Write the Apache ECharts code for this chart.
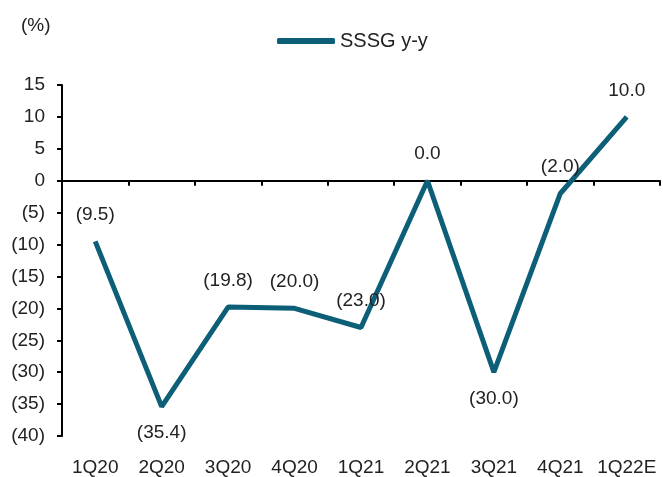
<!DOCTYPE html>
<html><head><meta charset="utf-8">
<script src="https://cdn.jsdelivr.net/npm/echarts@6/dist/echarts.min.js"></script>
<style>html,body{margin:0;padding:0;background:#fff}#c{width:663px;height:477px}</style>
</head><body><div id="c"></div>
<script>
var categories = ['1Q20','2Q20','3Q20','4Q20','1Q21','2Q21','3Q21','4Q21','1Q22E'];
var sssg = [-9.5, -35.4, -19.8, -20.0, -23.0, 0.0, -30.0, -2.0, 10.0];
var labelPos = ['top','bottom','top','top','top','top','bottom','top','top'];
var seriesName = 'SSSG y-y';
var lineColor = '#0d5f78';
var font = 'Liberation Sans, Arial, sans-serif';
var fs = 19;
function fmt(v){ return v < 0 ? '(' + Math.abs(v) + ')' : String(v); }
function fmt1(v){ var s = Math.abs(v).toFixed(1); return v < 0 ? '(' + s + ')' : s; }
var chart = echarts.init(document.getElementById('c'));
chart.setOption({
  animation: false,
  textStyle: {fontFamily: font},
  title: {text: '(%)', left: 16, top: 11, textStyle: {fontSize: fs, fontWeight: 'normal', color: '#222', fontFamily: font}},
  legend: {data: [seriesName], top: 26, left: 272, icon: 'roundRect', itemWidth: 58, itemHeight: 6, itemGap: 5,
    textStyle: {fontSize: fs + 1, color: '#222', fontFamily: font}},
  grid: {left: 62, right: 3, top: 85, bottom: 40},
  xAxis: [
    {type: 'category', data: categories, boundaryGap: true,
     axisLine: {onZero: true, lineStyle: {color: '#000', width: 2}},
     axisTick: {show: true, length: 5, interval: 0, lineStyle: {color: '#000', width: 2}},
     axisLabel: {show: false}},
    {type: 'category', data: categories, position: 'bottom', boundaryGap: true,
     axisLine: {show: false}, axisTick: {show: false},
     axisLabel: {show: true, interval: 0, fontSize: fs, color: '#222', margin: 22, fontFamily: font}}
  ],
  yAxis: {type: 'value', min: -40, max: 15, interval: 5,
    axisLine: {show: true, lineStyle: {color: '#000', width: 2}},
    axisTick: {show: true, length: 5, lineStyle: {color: '#000', width: 2}},
    splitLine: {show: false},
    axisLabel: {fontSize: fs, color: '#222', margin: 17, formatter: fmt, fontFamily: font}},
  series: [{
    name: seriesName, type: 'line', xAxisIndex: 0,
    data: sssg.map(function(v, i){ return {value: v, label: {position: labelPos[i]}}; }),
    showSymbol: true, symbol: 'circle', symbolSize: 0.1,
    lineStyle: {color: lineColor, width: 5},
    itemStyle: {color: lineColor},
    label: {show: true, fontSize: fs, color: '#222', distance: 17, fontFamily: font,
      formatter: function(p){ return fmt1(p.value); }}
  }]
});
</script></body></html>
